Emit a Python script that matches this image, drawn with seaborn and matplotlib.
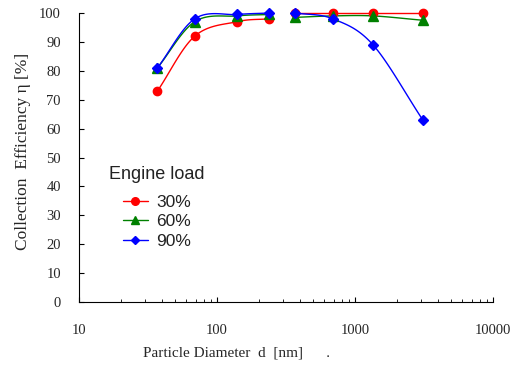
import numpy as np
import pandas as pd
import seaborn as sns
import matplotlib.pyplot as plt
from matplotlib.lines import Line2D

# particle diameters [nm], two measurement ranges (gap between them)
diam_low = [37, 69, 140, 240]
diam_high = [370, 690, 1350, 3100]

# collection efficiency [%] per engine load
eff = {
    '30%': ([73, 92, 97, 98], [100, 100, 100, 100]),
    '60%': ([81, 97, 99, 99.5], [98.5, 99, 99, 97.5]),
    '90%': ([81, 98, 99.5, 100], [100, 98, 89, 63]),
}
colors = {'30%': '#ff0000', '60%': '#008000', '90%': '#0000ff'}
markers = {'30%': 'o', '60%': '^', '90%': 'D'}
msizes = {'30%': 6, '60%': 6.5, '90%': 5}

rows = []
for load, (lo, hi) in eff.items():
    for d, e in zip(diam_low + diam_high, lo + hi):
        rows.append({'diameter': d, 'efficiency': e, 'load': load})
df = pd.DataFrame(rows)


def smooth(xs, ys, n=30):
    # Catmull-Rom style smoothing in log-x space, like a spreadsheet smoothed line
    lx = np.log10(xs)
    y = np.asarray(ys, float)
    px = np.concatenate([[2 * lx[0] - lx[1]], lx, [2 * lx[-1] - lx[-2]]])
    py = np.concatenate([[2 * y[0] - y[1]], y, [2 * y[-1] - y[-2]]])
    ox, oy = [], []
    for i in range(1, len(px) - 2):
        t = np.linspace(0, 1, n)
        for arr, out in ((px, ox), (py, oy)):
            p0, p1, p2, p3 = arr[i - 1:i + 3]
            out.extend(0.5 * (2 * p1 + (-p0 + p2) * t + (2 * p0 - 5 * p1 + 4 * p2 - p3) * t ** 2
                              + (-p0 + 3 * p1 - 3 * p2 + p3) * t ** 3))
    return 10 ** np.array(ox), np.array(oy)


sns.set_style('white')
plt.rcParams['font.family'] = ['Liberation Serif', 'DejaVu Serif']

fig = plt.figure(figsize=(5.13, 3.72), dpi=100)
ax = fig.add_axes([0.154, 0.188, 0.807, 0.777])
ax.set_xscale('log')

for load, (lo, hi) in eff.items():
    for xs, ys in ((diam_low, lo), (diam_high, hi)):
        sx, sy = smooth(xs, ys)
        ax.plot(sx, sy, color=colors[load], lw=1.0, zorder=2, clip_on=False)
    sub = df[df['load'] == load]
    ax.plot(sub['diameter'], sub['efficiency'], ls='none', marker=markers[load],
            ms=msizes[load], color=colors[load], mec=colors[load], zorder=3, clip_on=False)

ax.set_xlim(10, 10000)
ax.set_ylim(0, 100)
ax.set_yticks(range(0, 101, 10))
ax.set_xticks([10, 100, 1000, 10000])
ax.set_xticklabels(['10', '100', '1000', '10000'])
ax.tick_params(axis='y', left=True, direction='in', length=3.5, width=0.8,
               color='black', labelsize=10.5, pad=13)
ax.tick_params(axis='x', which='major', bottom=True, direction='in', length=3.5, width=0.8,
               color='black', labelsize=10.5, pad=16)
ax.tick_params(axis='x', which='minor', bottom=True, direction='in', length=2.5, width=0.6,
               color='black')
for s in ['top', 'right']:
    ax.spines[s].set_visible(False)
for s in ['left', 'bottom']:
    ax.spines[s].set_color('black')
    ax.spines[s].set_linewidth(0.8)

ax.set_xlabel('Particle Diameter  d  [nm]      .', fontsize=11, ha='left')
ax.xaxis.set_label_coords(0.155, -0.155)
ax.set_ylabel('Collection  Efficiency η [%]', fontsize=12.5)
ax.yaxis.set_label_coords(-0.115, 0.52)

# legend title drawn separately so the entries sit indented below it
ax.text(0.072, 0.44, 'Engine load', transform=ax.transAxes, family='Liberation Sans',
        fontsize=13, va='center', ha='left', color='#222222')
handles = [Line2D([0], [0], color=colors[k], marker=markers[k], ms=msizes[k] - 0.5, lw=1.0)
           for k in eff]
leg = ax.legend(handles, list(eff), loc='upper left',
                bbox_to_anchor=(0.09, 0.395), frameon=False,
                prop={'family': 'Liberation Sans', 'size': 12.5},
                handlelength=1.4, labelspacing=0.25, handletextpad=0.5,
                borderaxespad=0)
for t in leg.get_texts():
    t.set_color('#222222')

fig.savefig('out.png', dpi=100)
